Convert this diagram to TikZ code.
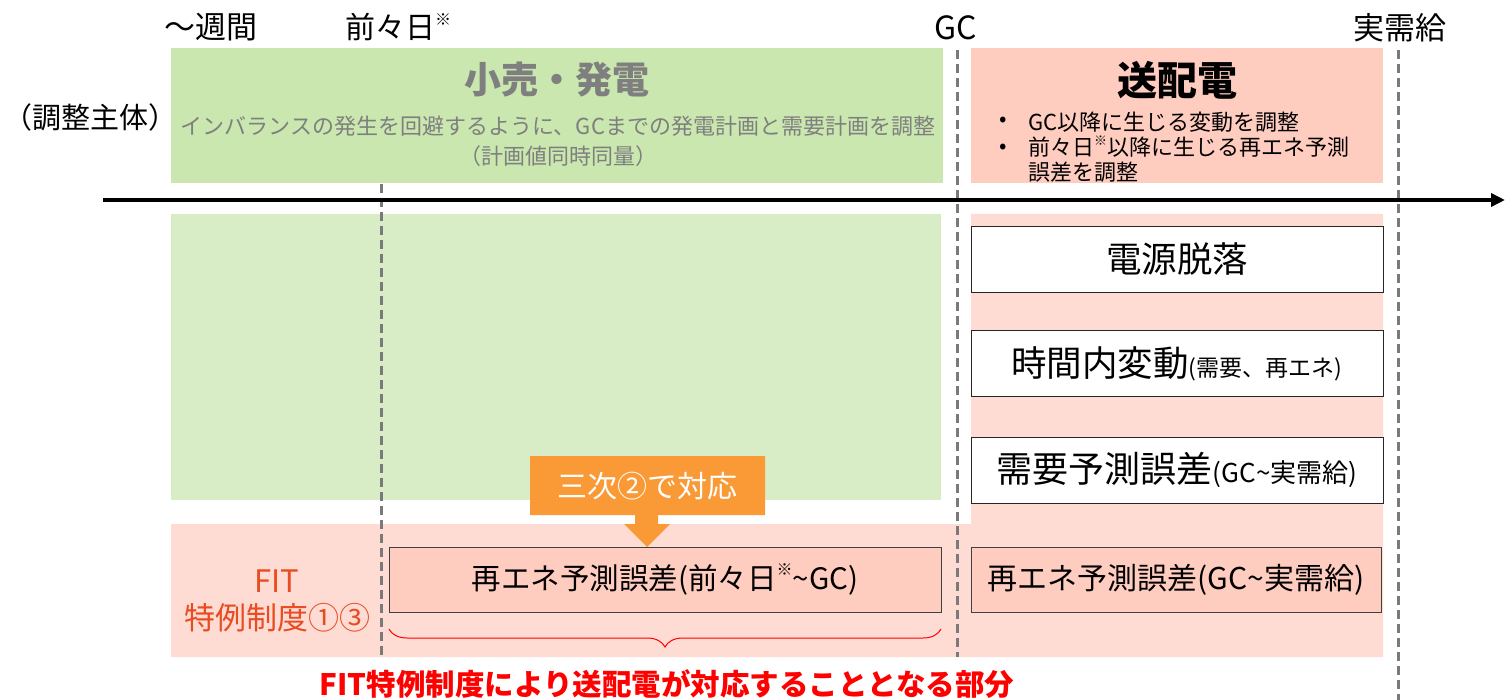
\documentclass[tikz,border=0pt]{standalone}
\usepackage{fontspec}
\setmainfont{Noto Sans CJK JP}
\usetikzlibrary{arrows.meta,decorations.pathreplacing}
\definecolor{gA}{HTML}{C9E7AE}
\definecolor{gB}{HTML}{D8EDC5}
\definecolor{pA}{HTML}{FFCCC0}
\definecolor{pB}{HTML}{FFDCD3}
\definecolor{orng}{HTML}{F99A37}
\definecolor{txtgray}{HTML}{7F7F7F}
\definecolor{fitred}{HTML}{E84C22}
\definecolor{dashgray}{HTML}{7A7A7A}
\newcommand\fsz[2]{\fontsize{#1pt}{#2pt}\selectfont}
\newcommand\supk[1]{\raisebox{0.45em}{\fontsize{#1pt}{#1pt}\selectfont ※}}
\begin{document}
\begin{tikzpicture}[x=1pt,y=-1pt,
  txt/.style={inner sep=0pt, outer sep=0pt},
  vline/.style={draw=dashgray, line width=3pt, dash pattern=on 9pt off 5pt},
  wbox/.style={draw=black!85, line width=0.8pt, fill=white, minimum width=412pt, minimum height=66pt, inner sep=0pt},
  rbox/.style={draw=black!75, line width=0.8pt, fill=pA, minimum height=65pt, inner sep=0pt},
]
\useasboundingbox (0,0) rectangle (1505,700);
% background areas
\fill[gA] (171,48) rectangle (943,183);
\fill[pA] (971,48) rectangle (1383,183);
\fill[gB] (171,214) rectangle (941,500);
\fill[pB] (171,524) -- (971,524) -- (971,214) -- (1383,214) -- (1383,657) -- (171,657) -- cycle;

% dashed time markers
\coordinate (d1a) at (381,184); \coordinate (d1b) at (381,657);
\coordinate (d2a) at (957,50);  \coordinate (d2b) at (957,657);
\coordinate (d3a) at (1398,50); \coordinate (d3b) at (1398,700);
\draw[vline] (d1a) -- (d1b);
\draw[vline] (d2a) -- (d2b);
\draw[vline] (d3a) -- (d3b);

% time axis
\coordinate (ax0) at (103,200); \coordinate (ax1) at (1505,200);
\draw[line width=3.5pt, -{Triangle[length=14pt,width=13pt]}] (ax0) -- (ax1);

% top labels
\node[txt,font=\fsz{31}{36}] (wk) at (211,27) {～週間};
\node[txt,font=\fsz{30}{36},anchor=west] (zz) at (345,27) {前々日\supk{16}};
\node[txt,font=\fsz{32}{36}] (gc) at (956,28) {GC};
\node[txt,font=\fsz{31}{36}] (jj) at (1400,28) {実需給};
\node[txt,font=\fsz{29}{34}] (sh) at (90,117) {（調整主体）};

% retail / generation box texts
\node[txt,font=\fsz{37}{44}\bfseries,text=txtgray] (kh) at (557,80) {小売・発電};
\node[txt,font=\fsz{22}{30},text=txtgray,align=center] (khd) at (558,141)
  {インバランスの発生を回避するように、GCまでの発電計画と需要計画を調整\\（計画値同時同量）};

% transmission box texts
\node[txt,font=\fsz{40}{46}\bfseries] (sh2) at (1177,80) {送配電};
\node[txt,font=\fsz{22}{26}] (b1) at (1003,122) {•};
\node[txt,font=\fsz{22}{26}] (b2) at (1003,149) {•};
\node[txt,font=\fsz{22}{26},anchor=west] (t1) at (1028,122) {GC以降に生じる変動を調整};
\node[txt,font=\fsz{22}{25},anchor=north west,align=left] (t2) at (1028,136)
  {前々日\supk{13}以降に生じる再エネ予測\\誤差を調整};

% right column boxes
\node[wbox,font=\fsz{35.5}{40}] (r1) at (1177,259) {電源脱落};
\node[wbox,font=\fsz{35.5}{40}] (r2) at (1177,363.5) {時間内変動{\fsz{23}{26}(需要、再エネ)}};
\node[wbox,font=\fsz{36}{40}] (r3) at (1177,470) {需要予測誤差{\fsz{26}{30}(GC\textasciitilde 実需給)}};
\node[rbox,minimum width=410pt,font=\fsz{30}{34}] (r4) at (1176,579.5) {再エネ予測誤差(GC\textasciitilde 実需給)};

% left renewable box
\node[rbox,minimum width=552pt,font=\fsz{29.5}{34}] (l4) at (665,579.5) {再エネ予測誤差(前々日\supk{16}\textasciitilde GC)};

% FIT label
\node[txt,font=\fsz{31}{37},text=fitred,align=center] (fit) at (277,601) {FIT\\特例制度①③};

% callout
\fill[orng] (530,456) -- (765,456) -- (765,515) -- (658,515) -- (658,524) -- (670,524)
  -- (647,547) -- (624,524) -- (635,524) -- (635,515) -- (530,515) -- cycle;
\node[txt,font=\fsz{30}{34},text=white] (cb) at (647.5,486) {三次②で対応};

% brace
\coordinate (br0) at (389,629); \coordinate (br1) at (941,629);
\draw[red, line width=1pt, decorate, decoration={brace, mirror, amplitude=18pt}] (br0) -- (br1);

% bottom caption
\node[txt,font=\fsz{29.5}{34}\bfseries,text=red] (bt) at (667,684) {FIT特例制度により送配電が対応することとなる部分};
\end{tikzpicture}
\end{document}
